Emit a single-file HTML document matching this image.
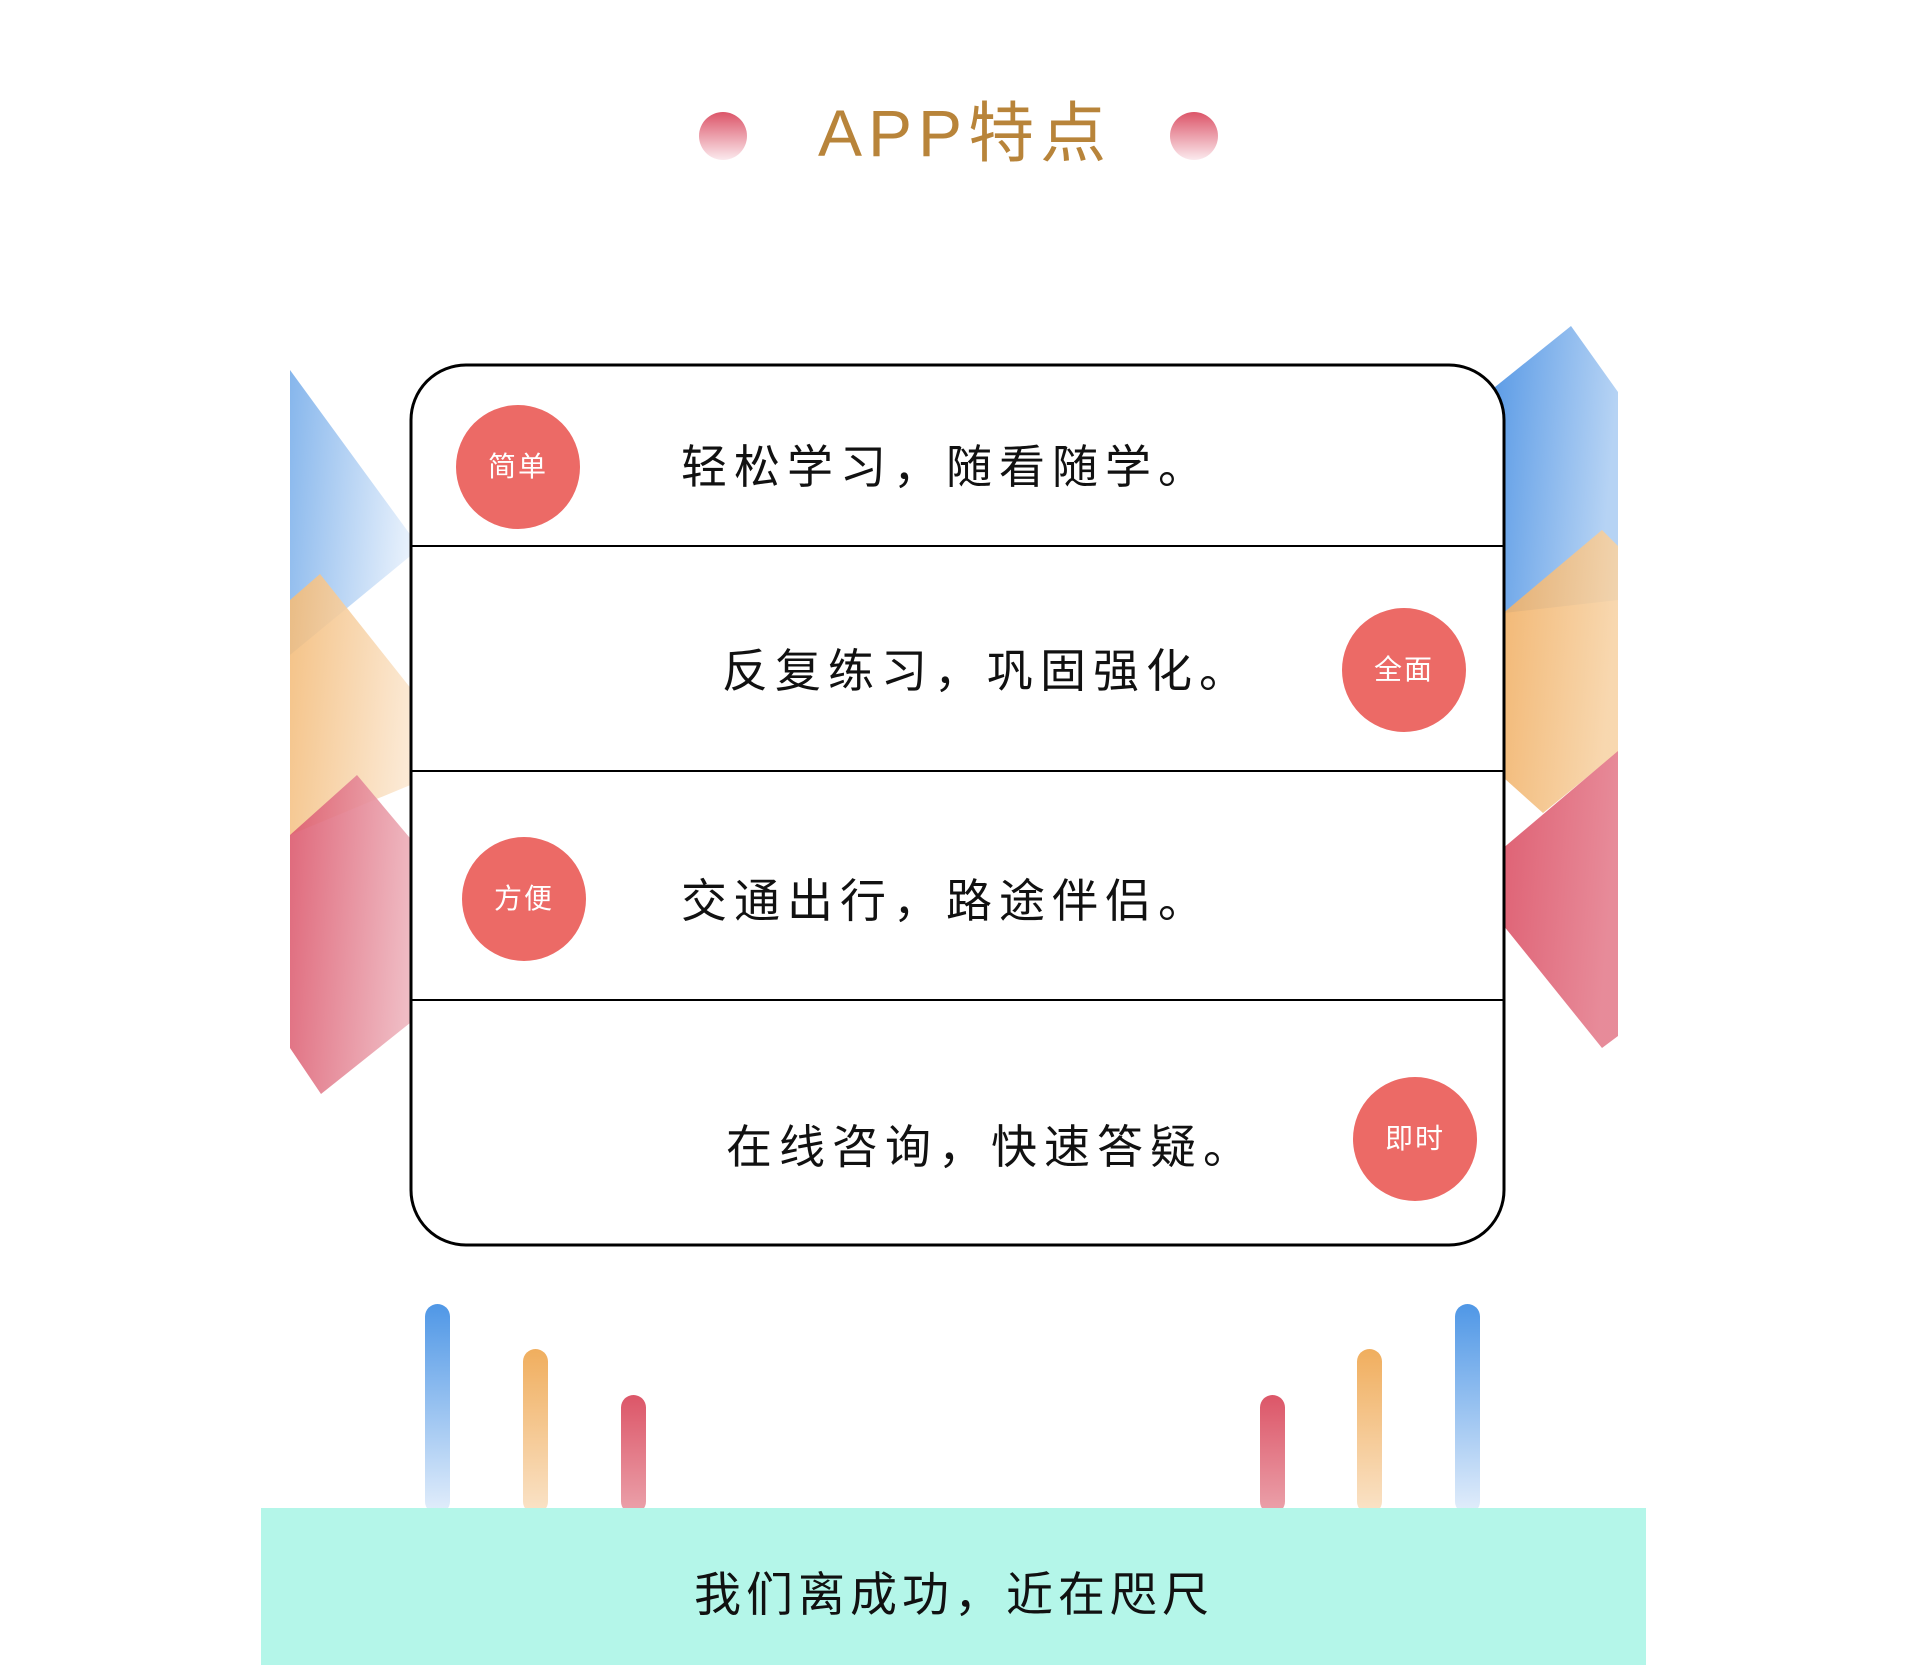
<!DOCTYPE html>
<html><head><meta charset="utf-8"><style>
html,body{margin:0;padding:0;background:#fff}
body{width:1920px;height:1665px;position:relative;overflow:hidden;font-family:"Liberation Sans","Noto Sans CJK SC",sans-serif}
.t{position:absolute;white-space:nowrap;color:#111;font-size:46px;letter-spacing:7px;line-height:1}
.b{position:absolute;width:124px;height:124px;border-radius:50%;background:#ec6a66;color:#fff;font-size:28px;line-height:124px;text-align:center;letter-spacing:2px}
</style></head><body>
<svg width="1920" height="1665" style="position:absolute;left:0;top:0">
<defs>
<linearGradient id="dot" x1="0" y1="0" x2="0" y2="1"><stop offset="0" stop-color="#dc5569"/><stop offset="1" stop-color="#fbeaee"/></linearGradient>
<linearGradient id="lb" x1="0" y1="0" x2="1" y2="0.2"><stop offset="0" stop-color="#86b6ec"/><stop offset="1" stop-color="#e8f1fc"/></linearGradient>
<linearGradient id="lo" x1="0" y1="0" x2="1" y2="0.2"><stop offset="0" stop-color="#f3bb78"/><stop offset="1" stop-color="#fbe7d0"/></linearGradient>
<linearGradient id="lr" x1="0" y1="0" x2="1" y2="0.2"><stop offset="0" stop-color="#dc5a6e"/><stop offset="1" stop-color="#eeb6bf"/></linearGradient>
<linearGradient id="rb" x1="0" y1="0" x2="1" y2="0.2"><stop offset="0" stop-color="#5b9be6"/><stop offset="1" stop-color="#b6d3f4"/></linearGradient>
<linearGradient id="ro" x1="0" y1="0" x2="1" y2="0.2"><stop offset="0" stop-color="#f0ad60"/><stop offset="1" stop-color="#f7d3a6"/></linearGradient>
<linearGradient id="rr" x1="0" y1="0" x2="1" y2="0.2"><stop offset="0" stop-color="#dc5569"/><stop offset="1" stop-color="#e68594"/></linearGradient>
<linearGradient id="vb" x1="0" y1="0" x2="0" y2="1"><stop offset="0" stop-color="#4f97e6"/><stop offset="1" stop-color="#e3eefb"/></linearGradient>
<linearGradient id="vo" x1="0" y1="0" x2="0" y2="1"><stop offset="0" stop-color="#f0ae5e"/><stop offset="1" stop-color="#fae3c8"/></linearGradient>
<linearGradient id="vr" x1="0" y1="0" x2="0" y2="1"><stop offset="0" stop-color="#dc5668"/><stop offset="1" stop-color="#eba2ab"/></linearGradient>
</defs>
<circle cx="723" cy="136" r="24" fill="url(#dot)"/>
<circle cx="1194" cy="136" r="24" fill="url(#dot)"/>
<polygon points="290,370 420,548 290,655" fill="url(#lb)"/>
<polygon points="290,600 320,574 420,700 420,781 290,835" fill="url(#lo)" opacity="0.9"/>
<polygon points="290,835 357,775 420,850 420,1015 321,1094 290,1048" fill="url(#lr)" opacity="0.92"/>
<polygon points="1495,387 1571,326 1618,392 1618,600 1495,614" fill="url(#rb)"/>
<polygon points="1495,620 1602,530 1618,546 1618,752 1543,813 1495,770" fill="url(#ro)" opacity="0.9"/>
<polygon points="1495,855 1618,751 1618,1036 1602,1048 1495,915" fill="url(#rr)" opacity="0.95"/>
<rect x="411" y="365" width="1093" height="880" rx="55" fill="#fff" stroke="#000" stroke-width="3"/>
<line x1="411" y1="546" x2="1504" y2="546" stroke="#000" stroke-width="2"/>
<line x1="411" y1="771" x2="1504" y2="771" stroke="#000" stroke-width="2"/>
<line x1="411" y1="1000" x2="1504" y2="1000" stroke="#000" stroke-width="2"/>
<rect x="425" y="1304" width="25" height="210" rx="12.5" fill="url(#vb)"/>
<rect x="523" y="1349" width="25" height="165" rx="12.5" fill="url(#vo)"/>
<rect x="621" y="1395" width="25" height="119" rx="12.5" fill="url(#vr)"/>
<rect x="1260" y="1395" width="25" height="119" rx="12.5" fill="url(#vr)"/>
<rect x="1357" y="1349" width="25" height="165" rx="12.5" fill="url(#vo)"/>
<rect x="1455" y="1304" width="25" height="210" rx="12.5" fill="url(#vb)"/>
<rect x="261" y="1508" width="1385" height="157" fill="#b4f6e9"/>
</svg>
<div class="t" style="left:818px;top:100px;font-size:66px;color:#b8843a;letter-spacing:6px">APP特点</div>
<div class="b" style="left:456px;top:405px">简单</div>
<div class="b" style="left:1342px;top:608px">全面</div>
<div class="b" style="left:462px;top:837px">方便</div>
<div class="b" style="left:1353px;top:1077px">即时</div>
<div class="t" style="left:681px;top:444px">轻松学习，随看随学。</div>
<div class="t" style="left:722px;top:648px">反复练习，巩固强化。</div>
<div class="t" style="left:681px;top:878px">交通出行，路途伴侣。</div>
<div class="t" style="left:726px;top:1124px">在线咨询，快速答疑。</div>
<div class="t" style="left:694px;top:1571px;font-size:47px;letter-spacing:5px">我们离成功，近在咫尺</div>
</body></html>
